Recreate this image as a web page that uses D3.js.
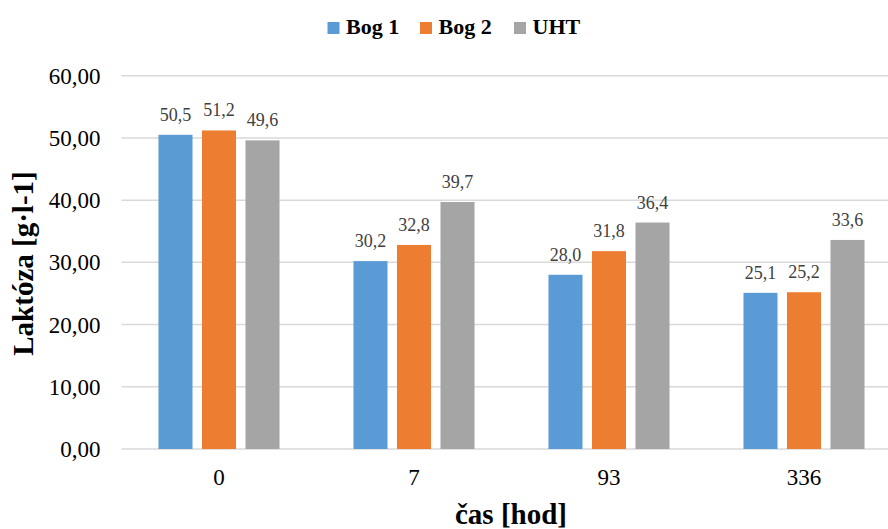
<!DOCTYPE html>
<html>
<head>
<meta charset="utf-8">
<script src="https://cdn.jsdelivr.net/npm/d3@7"></script>
<style>
  html, body { margin: 0; padding: 0; background: #fff; }
  svg { display: block; }
  svg text { font-family: "Liberation Serif", "Times New Roman", Tinos, "DejaVu Serif", serif; }
</style>
</head>
<body>
<div id="chart"></div>
<script>
const categories = ["0", "7", "93", "336"];
const seriesNames = ["Bog 1", "Bog 2", "UHT"];
const bog1 = [50.5, 30.2, 28.0, 25.1];
const bog2 = [51.2, 32.8, 31.8, 25.2];
const uht = [49.6, 39.7, 36.4, 33.6];
const yTicks = [0, 10, 20, 30, 40, 50, 60];
const colors = ["#5B9BD5", "#ED7D31", "#A5A5A5"];
const yTitle = "Laktóza [g·l-1]";
const xTitle = "čas [hod]";

const series = [bog1, bog2, uht];
const W = 888, H = 529;
const svg = d3.select("#chart").append("svg").attr("width", W).attr("height", H);

const plot = { left: 121.5, right: 901.5, top: 75.7, bottom: 449 };

const x0 = d3.scaleBand().domain(categories).range([plot.left, plot.right]).padding(0);
const x1 = d3.scaleBand().domain(seriesNames).range([0, x0.bandwidth()])
  .paddingInner(0.218).paddingOuter(0.85);
const y = d3.scaleLinear().domain([0, 60]).range([plot.bottom, plot.top]);

const fmt = v => d3.format(".2f")(v).replace(".", ",");
const fmt1 = v => d3.format(".1f")(v).replace(".", ",");

// gridlines
svg.append("g").selectAll("line").data(yTicks).join("line")
  .attr("x1", plot.left).attr("x2", plot.right)
  .attr("y1", d => y(d)).attr("y2", d => y(d))
  .attr("stroke", "#d9d9d9").attr("stroke-width", 1.5);

// y axis labels
const yAxis = d3.axisLeft(y).tickValues(yTicks).tickFormat(fmt).tickSize(0).tickPadding(21);
const gy = svg.append("g").attr("transform", `translate(${plot.left},0)`).call(yAxis);
gy.attr("font-family", null);
gy.select(".domain").remove();
gy.selectAll("text")
  .attr("font-size", 23).attr("fill", "#000").attr("dy", "0.33em");

// x axis labels
const xAxis = d3.axisBottom(x0).tickSize(0).tickPadding(20);
const gx = svg.append("g").attr("transform", `translate(0,${plot.bottom})`).call(xAxis);
gx.attr("font-family", null);
gx.select(".domain").remove();
gx.selectAll("text")
  .attr("font-size", 23).attr("fill", "#000").attr("dy", "0.71em");

// bars
const groups = svg.append("g").selectAll("g").data(categories).join("g")
  .attr("transform", d => `translate(${x0(d)},0)`);

groups.selectAll("rect")
  .data((c, i) => seriesNames.map((s, j) => ({ s, j, v: series[j][i] })))
  .join("rect")
  .attr("x", d => x1(d.s))
  .attr("width", x1.bandwidth())
  .attr("y", d => y(d.v))
  .attr("height", d => y(0) - y(d.v))
  .attr("fill", d => colors[d.j]);

groups.selectAll("text.lbl")
  .data((c, i) => seriesNames.map((s, j) => ({ s, j, v: series[j][i] })))
  .join("text").attr("class", "lbl")
  .attr("x", d => x1(d.s) + x1.bandwidth() / 2)
  .attr("y", d => y(d.v) - 14)
  .attr("text-anchor", "middle")
  .attr("font-size", 18).attr("fill", "#404040")
  .text(d => fmt1(d.v));

// legend
const legendX = [327.5, 420, 514];
const leg = svg.append("g").selectAll("g").data(seriesNames).join("g")
  .attr("transform", (d, i) => `translate(${legendX[i]},22)`);
leg.append("rect").attr("width", 12).attr("height", 12).attr("fill", (d, i) => colors[i]);
leg.append("text").attr("x", 18.5).attr("y", 12)
  .attr("font-weight", "bold").attr("font-size", 22).attr("fill", "#000")
  .text(d => d);

// axis titles
svg.append("text")
  .attr("x", 511).attr("y", 524)
  .attr("text-anchor", "middle")
  .attr("font-weight", "bold").attr("font-size", 29).attr("fill", "#000")
  .text(xTitle);

svg.append("text")
  .attr("transform", "translate(33,263.5) rotate(-90)")
  .attr("text-anchor", "middle")
  .attr("font-weight", "bold").attr("font-size", 29).attr("fill", "#000")
  .text(yTitle);
</script>
</body>
</html>
